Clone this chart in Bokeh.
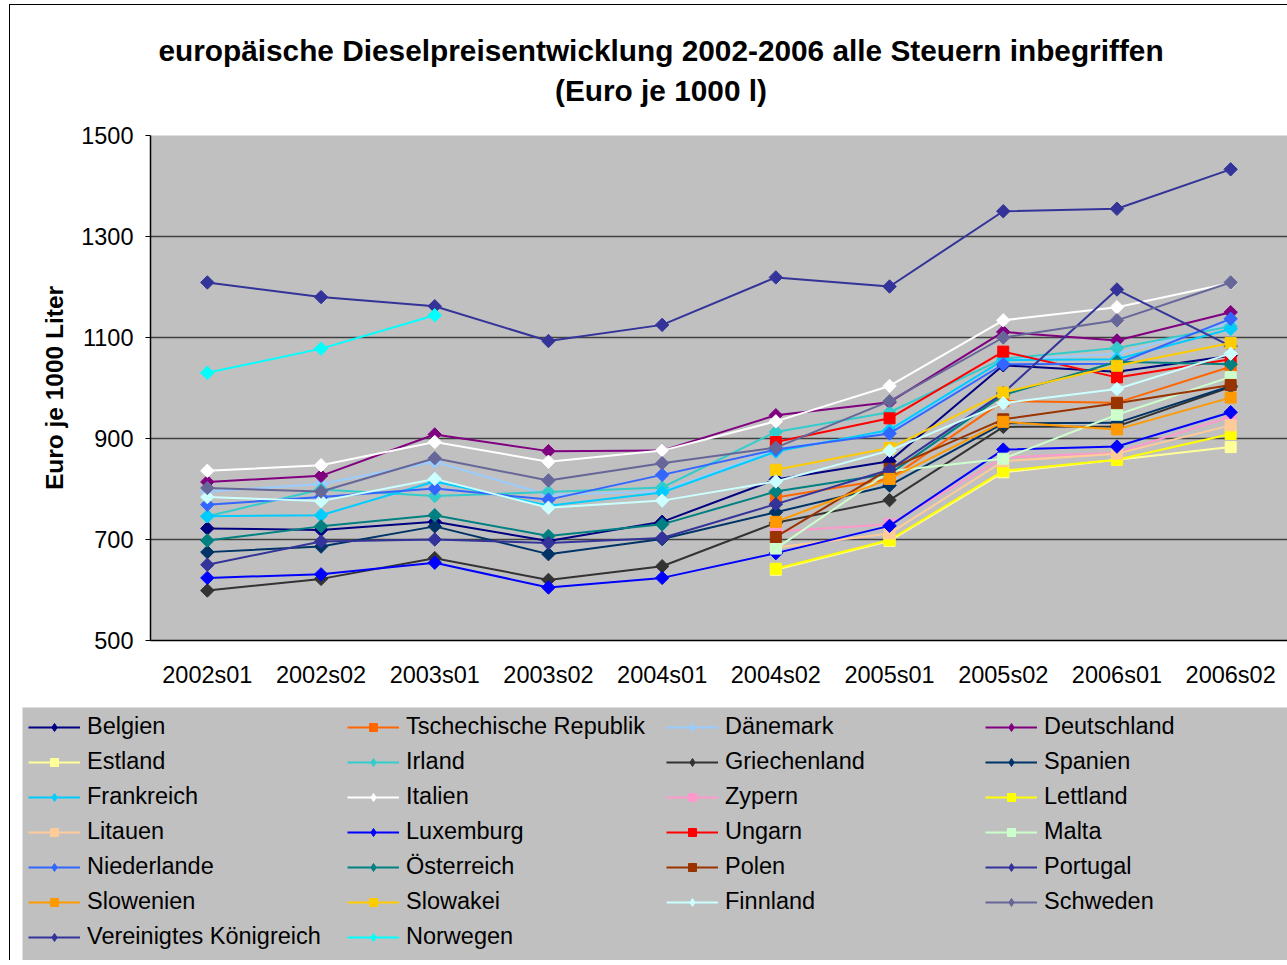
import math
from bokeh.plotting import figure
from bokeh.layouts import column
from bokeh.models import (ColumnDataSource, FactorRange, Range1d, FixedTicker,
                          Legend, LegendItem, Label)
from bokeh.embed import file_html
from bokeh.resources import INLINE

periods = ["2002s01", "2002s02", "2003s01", "2003s02", "2004s01",
           "2004s02", "2005s01", "2005s02", "2006s01", "2006s02"]
y_ticks = [500, 700, 900, 1100, 1300, 1500]

title_line1 = "europäische Dieselpreisentwicklung 2002-2006 alle Steuern inbegriffen"
title_line2 = "(Euro je 1000 l)"
y_label = "Euro je 1000 Liter"

belgien      = [722, 719, 735, 697, 735, 819, 855, 1045, 1032, 1064]
tschechien   = [None, None, None, None, None, 783, 820, 974, 971, 1042]
daenemark    = [795, 810, 854, 788, 795, 878, 913, 1055, 1068, 1128]
deutschland  = [814, 826, 908, 875, 876, 946, 972, 1111, 1094, 1150]
estland      = [None, None, None, None, None, 640, 697, 833, 858, 883]
irland       = [746, 799, 786, 794, 803, 913, 952, 1058, 1079, 1122]
griechenland = [599, 622, 663, 620, 647, 733, 778, 923, 924, 1002]
spanien      = [675, 686, 726, 671, 701, 754, 807, 930, 931, 1004]
frankreich   = [746, 748, 815, 767, 793, 874, 917, 1055, 1057, 1117]
italien      = [836, 847, 893, 854, 876, 934, 1004, 1134, 1160, 1208]
zypern       = [None, None, None, None, None, 716, 730, 862, 872, 943]
lettland     = [None, None, None, None, None, 642, 699, 836, 858, 909]
litauen      = [None, None, None, None, None, 684, 712, 855, 870, 926]
luxemburg    = [624, 631, 654, 605, 624, 673, 727, 878, 884, 952]
ungarn       = [None, None, None, None, None, 893, 940, 1072, 1021, 1057]
malta        = [None, None, None, None, None, 682, 835, 860, 947, 1022]
niederlande  = [769, 784, 801, 779, 828, 878, 910, 1047, 1048, 1137]
oesterreich  = [698, 726, 748, 707, 730, 795, 830, 986, 1052, 1047]
polen        = [None, None, None, None, None, 705, 840, 938, 970, 1006]
portugal     = [650, 696, 700, 693, 703, 770, 838, 990, 1195, 1083]
slowenien    = [None, None, None, None, None, 735, 820, 933, 918, 981]
slowakei     = [None, None, None, None, None, 838, 881, 991, 1044, 1089]
finnland     = [784, 776, 820, 763, 777, 815, 876, 970, 998, 1068]
schweden     = [802, 795, 861, 817, 851, 882, 974, 1100, 1134, 1209]
uk           = [1209, 1180, 1162, 1093, 1125, 1219, 1201, 1350, 1355, 1433]
norwegen     = [1030, 1078, 1144, None, None, None, None, None, None, None]

series_names = ["Belgien", "Tschechische Republik", "Dänemark", "Deutschland",
                "Estland", "Irland", "Griechenland", "Spanien",
                "Frankreich", "Italien", "Zypern", "Lettland",
                "Litauen", "Luxemburg", "Ungarn", "Malta",
                "Niederlande", "Österreich", "Polen", "Portugal",
                "Slowenien", "Slowakei", "Finnland", "Schweden",
                "Vereinigtes Königreich", "Norwegen"]
series_values = [belgien, tschechien, daenemark, deutschland,
                 estland, irland, griechenland, spanien,
                 frankreich, italien, zypern, lettland,
                 litauen, luxemburg, ungarn, malta,
                 niederlande, oesterreich, polen, portugal,
                 slowenien, slowakei, finnland, schweden,
                 uk, norwegen]

colors = ["#000080", "#FF6600", "#99CCFF", "#800080",
          "#FFFF99", "#33CCCC", "#333333", "#003366",
          "#00CCFF", "#FFFFFF", "#FF99CC", "#FFFF00",
          "#FFCC99", "#0000FF", "#FF0000", "#CCFFCC",
          "#3366FF", "#008080", "#993300", "#333399",
          "#FF9900", "#FFCC00", "#CCFFFF", "#666699",
          "#333399", "#00FFFF"]
markers = ["d", "s", "d", "d", "s", "d", "d", "d", "d", "d", "s", "s", "s",
           "d", "s", "s", "d", "d", "s", "d", "s", "s", "d", "d", "d", "d"]

FONT = "Liberation Sans"
W = 1277


def no_frame_align(fig):
    try:
        fig.frame_align = False
    except Exception:
        pass


# ---------- title strip ----------
tf = figure(width=W, height=115, output_backend="svg", toolbar_location=None,
            x_range=Range1d(140, W), y_range=Range1d(0, 115),
            x_axis_location=None, y_axis_location=None,
            min_border_left=140, min_border_right=0, min_border_top=0,
            min_border_bottom=0, outline_line_color=None,
            background_fill_color="white", border_fill_color="white")
tf.grid.visible = False
no_frame_align(tf)
tf.add_layout(Label(x=650.5, y=70, text=title_line1, text_align="center",
                    text_baseline="middle", text_font=FONT,
                    text_font_size="29.8px", text_font_style="bold",
                    text_color="black"))
tf.add_layout(Label(x=650.5, y=30, text=title_line2, text_align="center",
                    text_baseline="middle", text_font=FONT,
                    text_font_size="29.8px", text_font_style="bold",
                    text_color="black"))

# ---------- main chart ----------
p = figure(width=W, height=580, output_backend="svg", toolbar_location=None,
           x_range=FactorRange(factors=periods, range_padding=0),
           y_range=Range1d(500, 1500),
           min_border_left=140, min_border_right=0,
           min_border_top=15, min_border_bottom=60,
           background_fill_color="#C0C0C0", border_fill_color="white",
           outline_line_color=None)
no_frame_align(p)

# ---------- legend strip ----------
lf = figure(width=W, height=260, output_backend="svg", toolbar_location=None,
            x_range=FactorRange(factors=periods, range_padding=0),
            y_range=Range1d(0, 1),
            x_axis_location=None, y_axis_location=None,
            min_border_left=12, min_border_right=0, min_border_top=7,
            min_border_bottom=0, outline_line_color=None,
            background_fill_color="#C0C0C0", border_fill_color="white")
lf.grid.visible = False
no_frame_align(lf)

items = []
for name, vals, col, mk in zip(series_names, series_values, colors, markers):
    xs = [periods[i] for i, v in enumerate(vals) if v is not None]
    ys = [v for v in vals if v is not None]
    src = ColumnDataSource(dict(x=xs, y=ys))
    # main chart
    p.line("x", "y", source=src, line_color=col, line_width=2)
    if mk == "d":
        p.scatter("x", "y", source=src, marker="square", angle=math.pi / 4,
                  size=9.5, fill_color=col, line_color=col)
    else:
        p.scatter("x", "y", source=src, marker="square", size=11,
                  fill_color=col, line_color=col)
    # legend strip (data lies outside its view; only the legend glyphs show)
    lr = lf.line("x", "y", source=src, line_color=col, line_width=2)
    if mk == "d":
        sr = lf.scatter("x", "y", source=src, marker="diamond", size=15,
                        fill_color=col, line_color=col)
    else:
        sr = lf.scatter("x", "y", source=src, marker="square", size=11,
                        fill_color=col, line_color=col)
    items.append(LegendItem(label=name, renderers=[lr, sr]))

# axes
p.xaxis.major_label_text_font = FONT
p.xaxis.major_label_text_font_size = "23.5px"
p.xaxis.major_label_text_color = "black"
p.xaxis.major_tick_line_color = None
p.xaxis.major_tick_out = 0
p.xaxis.major_label_standoff = 21
p.xaxis.axis_line_color = "black"
p.xaxis.axis_line_width = 1.5

p.yaxis.ticker = FixedTicker(ticks=y_ticks)
p.yaxis.minor_tick_line_color = None
p.yaxis.major_tick_out = 5
p.yaxis.major_tick_in = 0
p.yaxis.major_tick_line_color = "black"
p.yaxis.major_label_standoff = 12
p.yaxis.major_label_text_font = FONT
p.yaxis.major_label_text_font_size = "23.5px"
p.yaxis.major_label_text_color = "black"
p.yaxis.axis_line_color = "black"
p.yaxis.axis_line_width = 1.5
p.yaxis.axis_label = y_label
p.yaxis.axis_label_text_font = FONT
p.yaxis.axis_label_text_font_size = "24.5px"
p.yaxis.axis_label_text_font_style = "bold"
p.yaxis.axis_label_text_color = "black"
p.yaxis.axis_label_standoff = 10

p.xgrid.grid_line_color = None
p.ygrid.ticker = FixedTicker(ticks=y_ticks)
p.ygrid.grid_line_color = "#404040"
p.ygrid.grid_line_width = 1.5

legend = Legend(items=items, location="top_left", orientation="horizontal",
                ncols=4, background_fill_color="#C0C0C0", background_fill_alpha=1,
                border_line_color=None, label_text_font=FONT,
                label_text_font_size="23.5px", label_text_color="black",
                glyph_width=52, glyph_height=20, label_standoff=7,
                spacing=8, padding=14, margin=6, label_width=252)
lf.add_layout(legend)

layout = column(tf, p, lf, spacing=0, margin=(4, 0, 0, 9),
                styles={"border-left": "1px solid black",
                        "border-top": "1px solid black"})

open("out.html", "w").write(file_html(layout, INLINE))
